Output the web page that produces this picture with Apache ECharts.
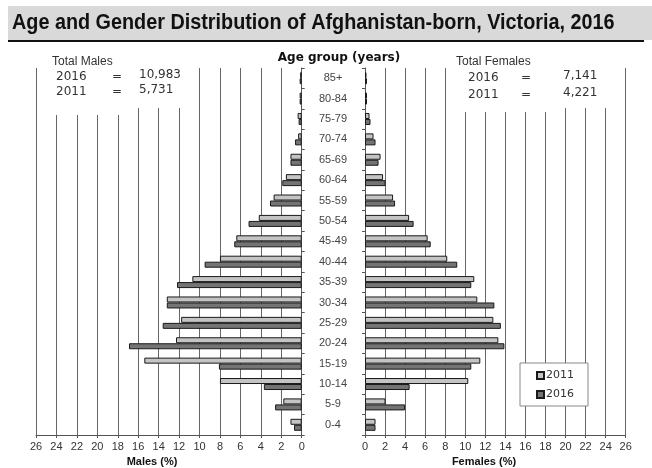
<!DOCTYPE html>
<html>
<head>
<meta charset="utf-8">
<script src="https://cdn.jsdelivr.net/npm/echarts@6/dist/echarts.min.js"></script>
<style>html,body{margin:0;padding:0;background:#fff}#c{width:652px;height:468px}</style>
</head>
<body>
<div id="c"></div>
<script>
var ages = ['0-4','5-9','10-14','15-19','20-24','25-29','30-34','35-39','40-44','45-49','50-54','55-59','60-64','65-69','70-74','75-79','80-84','85+'];
var males2011 = [1.1,1.8,8.0,15.4,12.3,11.8,13.2,10.7,8.0,6.4,4.2,2.75,1.55,1.1,0.35,0.4,0.2,0.15];
var males2016 = [0.75,2.6,3.7,8.1,16.9,13.6,13.2,12.2,9.5,6.6,5.2,3.1,1.9,1.1,0.65,0.3,0.2,0.2];
var females2011 = [1.05,2.05,10.3,11.5,13.3,12.8,11.2,10.9,8.2,6.25,4.4,2.8,1.8,1.55,0.85,0.45,0.2,0.15];
var females2016 = [1.05,4.0,4.45,10.6,13.9,13.55,12.9,10.6,9.2,6.55,4.85,3.0,2.05,1.35,1.05,0.55,0.2,0.2];
var years = ['2011','2016'];
var titleText = 'Age and Gender Distribution of Afghanistan-born, Victoria, 2016';
var maleTotals = ['10,983','5,731'];
var femaleTotals = ['7,141','4,221'];

var chart = echarts.init(document.getElementById('c'), null, {renderer:'canvas'});
var lblFont = 'Liberation Sans';
var col2011 = '#c4c4c4', col2016 = '#747474';
function xAx(gi, inv){
  return {gridIndex:gi, type:'value', min:0, max:26, interval:2, inverse:inv,
    axisLine:{show:true, lineStyle:{color:'#555', width:1}},
    axisTick:{show:true, length:3, lineStyle:{color:'#555'}},
    axisLabel:{color:'#333', fontFamily:lblFont, fontSize:11, margin:6},
    splitLine:{show:true, lineStyle:{color:'#666', width:1}}};
}
function bar(name, xi, data, color){
  return {name:name, type:'bar', xAxisIndex:xi, yAxisIndex:xi, data:data, barWidth:6, barGap:'0%',
    itemStyle:{color:color, borderColor:'#1a1a1a', borderWidth:1}, z:3};
}
function txt(t, x, y, font, extra){
  var s = {text:t, x:x, y:y, verticalAlign:'middle', font:font, fill:'#333'};
  if (extra) for (var k in extra) s[k] = extra[k];
  return {type:'text', style:s, z:5};
}
var numFont = '12px "DejaVu Sans"';
var option = {
  animation:false,
  backgroundColor:'#fff',
  legend:{data:years, orient:'vertical', left:520, top:363, padding:[7,14,6,16], itemGap:8, itemWidth:7, itemHeight:7,
    borderColor:'#888', borderWidth:1, backgroundColor:'#fff', icon:'rect',
    textStyle:{fontFamily:'DejaVu Sans', fontSize:11, color:'#333', padding:[0,0,0,-3]}},
  grid:[{left:36, right:350.3, top:68, bottom:33},{left:365, right:26.3, top:68, bottom:33}],
  xAxis:[xAx(0,true), xAx(1,false)],
  yAxis:[
    {gridIndex:0, type:'category', data:ages, position:'right',
      axisLine:{show:true, lineStyle:{color:'#555'}}, axisTick:{show:true, length:3, lineStyle:{color:'#555'}},
      axisLabel:{show:false}, splitLine:{show:false}},
    {gridIndex:1, type:'category', data:ages, position:'left',
      axisLine:{show:true, lineStyle:{color:'#555'}}, axisTick:{show:true, length:3, lineStyle:{color:'#555'}},
      axisLabel:{show:true, align:'center', margin:32, color:'#444', fontFamily:lblFont, fontSize:11}, splitLine:{show:false}}
  ],
  series:[
    bar('2011',0,males2011,col2011), bar('2016',0,males2016,col2016),
    bar('2011',1,females2011,col2011), bar('2016',1,females2016,col2016)
  ],
  graphic:[
    {type:'rect', shape:{x:8,y:6,width:644,height:34}, style:{fill:'#d9d9d9'}, z:-10},
    {type:'rect', shape:{x:8,y:40,width:636,height:2}, style:{fill:'#111'}, z:-9},
    {type:'text', x:12, y:23, scaleX:0.9, style:{text:titleText, x:0, y:0, verticalAlign:'middle', font:'bold 22px "Liberation Sans"', fill:'#111'}, z:5},
    {type:'rect', shape:{x:40,y:55,width:88,height:60}, style:{fill:'#fff'}, z:1},
    {type:'rect', shape:{x:128,y:55,width:62,height:53}, style:{fill:'#fff'}, z:1},
    {type:'rect', shape:{x:455,y:55,width:101,height:57}, style:{fill:'#fff'}, z:1},
    {type:'rect', shape:{x:556,y:55,width:60,height:53}, style:{fill:'#fff'}, z:1},
    txt('Age group (years)', 339, 58, 'bold 12px "DejaVu Sans"', {align:'center', fill:'#111'}),
    txt('Total Males', 52, 62, '12px "Liberation Sans"'),
    txt('2016', 56, 77, numFont), txt('=', 112, 77, numFont), txt(maleTotals[0], 139, 75, numFont),
    txt('2011', 56, 92, numFont), txt('=', 112, 92, numFont), txt(maleTotals[1], 139, 90, numFont),
    txt('Total Females', 456, 62, '12px "Liberation Sans"'),
    txt('2016', 468, 78, numFont), txt('=', 521, 78, numFont), txt(femaleTotals[0], 563, 76, numFont),
    txt('2011', 468, 95, numFont), txt('=', 521, 95, numFont), txt(femaleTotals[1], 563, 93, numFont),
    txt('Males (%)', 152, 462, 'bold 11px "Liberation Sans"', {align:'center', fill:'#111'}),
    txt('Females (%)', 484, 462, 'bold 11px "Liberation Sans"', {align:'center', fill:'#111'})
  ]
};
chart.setOption(option);
</script>
</body>
</html>
